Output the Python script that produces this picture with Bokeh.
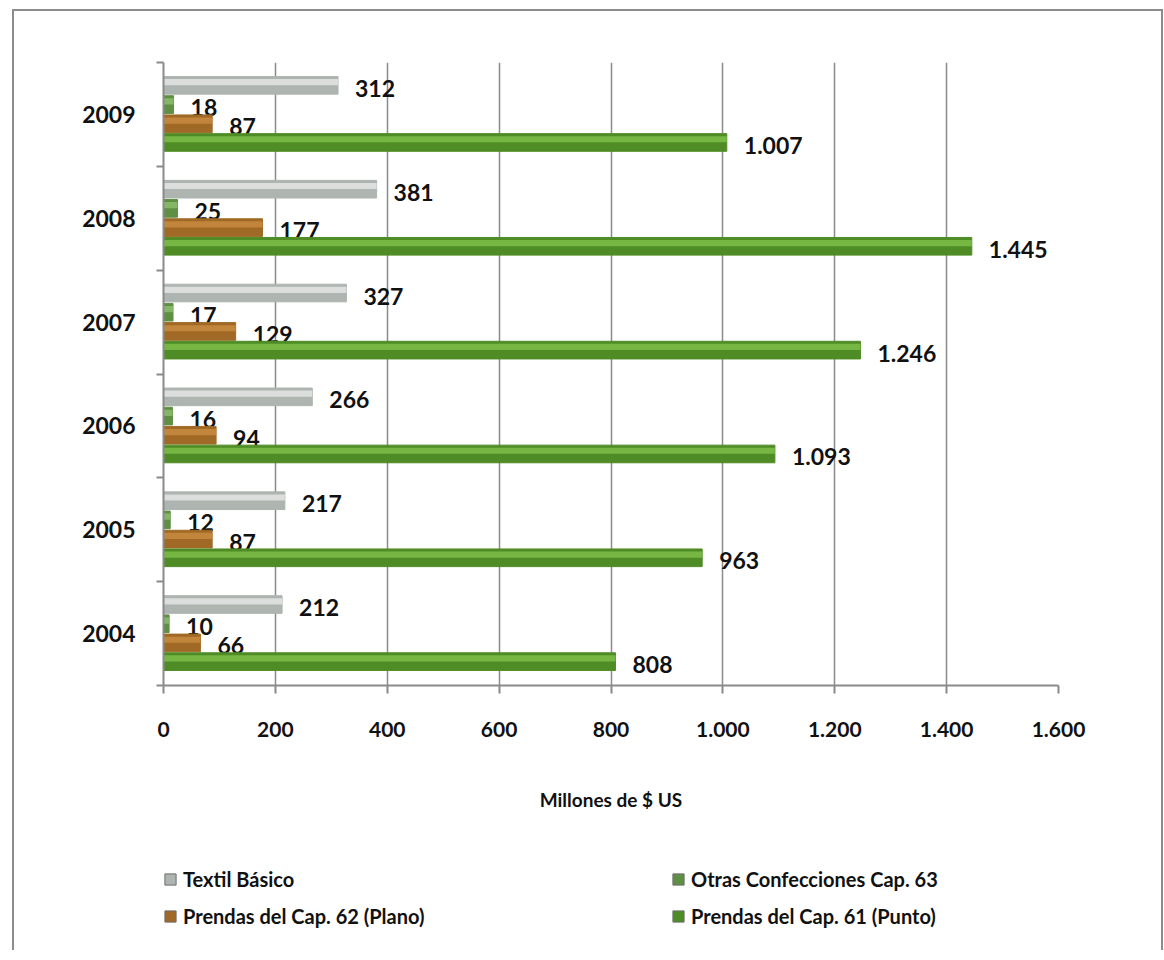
from bokeh.plotting import figure
from bokeh.layouts import column
from bokeh.models import ColumnDataSource, FixedTicker, Legend, LegendItem
from bokeh.core.properties import value
from bokeh.embed import file_html
from bokeh.resources import INLINE

# Export values, millions of US$
years = ["2004", "2005", "2006", "2007", "2008", "2009"]
textil = [212, 217, 266, 327, 381, 312]
otras = [10, 12, 16, 17, 25, 18]
cap62 = [66, 87, 94, 129, 177, 87]
cap61 = [808, 963, 1093, 1246, 1445, 1007]
x_ticks = [0, 200, 400, 600, 800, 1000, 1200, 1400, 1600]

series = [
    ("Textil Básico", textil, 0.28, "#aeb4b0", "#e6e9e7"),
    ("Otras Confecciones Cap. 63", otras, 0.095, "#5f8f43", "#8fbf6e"),
    ("Prendas del Cap. 62 (Plano)", cap62, -0.09, "#a06a26", "#c98c42"),
    ("Prendas del Cap. 61 (Punto)", cap61, -0.27, "#4f8c26", "#7fc04a"),
]
BAR_H = 0.17
FONT = value("Lato")
W = 1147


def fmt(v):
    return f"{v:,}".replace(",", ".")


p = figure(
    width=W, height=835,
    x_range=(0, 1600), y_range=(0, len(years)),
    output_backend="svg", toolbar_location=None,
    min_border_left=149, min_border_top=51,
    min_border_right=103, min_border_bottom=161,
    outline_line_color=None,
    background_fill_color="white", border_fill_color="white",
)

for name, vals, off, base, light in series:
    ys = [i + 0.5 + off for i in range(len(years))]
    src = ColumnDataSource(dict(y=ys, right=vals, label=[fmt(v) for v in vals]))
    p.hbar(y="y", right="right", left=0, height=BAR_H, source=src,
           fill_color=base, line_color=base, line_width=1)
    # lighter upper band gives the bars a rounded, tubular look
    hi = ColumnDataSource(dict(y=[y + BAR_H * 0.18 for y in ys], right=vals))
    p.hbar(y="y", right="right", left=0, height=BAR_H * 0.35, source=hi,
           fill_color=light, line_color=None, fill_alpha=0.8)
    p.text(x="right", y="y", text="label", source=src,
           x_offset=17, y_offset=3, text_baseline="middle", text_align="left",
           text_font=FONT, text_font_style="bold", text_font_size="23px",
           text_color="#111111")

# x axis
p.xaxis.ticker = FixedTicker(ticks=x_ticks)
p.xaxis.major_label_overrides = {t: fmt(t) for t in x_ticks}
p.xaxis.axis_label = "Millones de $ US"
p.xaxis.axis_label_text_font = "Lato"
p.xaxis.axis_label_text_font_style = "bold"
p.xaxis.axis_label_text_font_size = "19px"
p.xaxis.axis_label_text_color = "#111111"
p.xaxis.axis_label_standoff = 48
p.xaxis.major_label_text_font = "Lato"
p.xaxis.major_label_text_font_style = "bold"
p.xaxis.major_label_text_font_size = "21px"
p.xaxis.major_label_text_color = "#111111"
p.xaxis.major_label_standoff = 28
p.xaxis.major_tick_out = 8
p.xaxis.major_tick_in = 0
p.xaxis.minor_tick_line_color = None
p.xaxis.axis_line_color = "#8a8a8a"
p.xaxis.axis_line_width = 2
p.xaxis.major_tick_line_color = "#8a8a8a"
p.xaxis.major_tick_line_width = 2

# category axis: labels at group centres, tick marks at group boundaries
centers = [i + 0.5 for i in range(len(years))]
p.yaxis.ticker = FixedTicker(ticks=centers, minor_ticks=list(range(len(years) + 1)))
p.yaxis.major_label_overrides = {c: y for c, y in zip(centers, years)}
p.yaxis.major_tick_out = 0
p.yaxis.major_tick_in = 0
p.yaxis.minor_tick_out = 7
p.yaxis.minor_tick_in = 0
p.yaxis.minor_tick_line_color = "#8a8a8a"
p.yaxis.minor_tick_line_width = 2
p.yaxis.axis_line_color = "#8a8a8a"
p.yaxis.axis_line_width = 2
p.yaxis.major_label_standoff = 21
p.yaxis.major_label_text_font = "Lato"
p.yaxis.major_label_text_font_style = "bold"
p.yaxis.major_label_text_font_size = "23px"
p.yaxis.major_label_text_color = "#111111"

p.xgrid.grid_line_color = "#8a8a8a"
p.xgrid.grid_line_width = 1.5
p.ygrid.visible = False

# legend strip under the chart (its frame lines up with the chart's frame)
leg = figure(
    width=W, height=104, x_range=(0, 1), y_range=(0, 1),
    output_backend="svg", toolbar_location=None,
    x_axis_location=None, y_axis_location=None,
    min_border=0, outline_line_color=None,
    background_fill_color="white", border_fill_color="white",
)
leg.xgrid.visible = False
leg.ygrid.visible = False
swatches = {}
for name, vals, off, base, light in series:
    # placeholder glyph kept outside the visible range; only its swatch shows
    swatches[name] = leg.quad(left=[-10], right=[-9], bottom=[-10], top=[-9],
                              fill_color=base, line_color="#6e6e6e",
                              line_width=1)

# two columns, filled column by column
order = ["Textil Básico", "Prendas del Cap. 62 (Plano)",
         "Otras Confecciones Cap. 63", "Prendas del Cap. 61 (Punto)"]
items = [LegendItem(label=n, renderers=[swatches[n]]) for n in order]

legend = Legend(items=items, ncols=2, location=(0, 22),
                label_text_font="Lato", label_text_font_style="bold",
                label_text_font_size="20px", label_text_color="#111111",
                glyph_width=14, glyph_height=14, label_standoff=6,
                label_width=475, label_height=22, spacing=13,
                padding=4, margin=0, border_line_color=None,
                background_fill_alpha=0)
leg.add_layout(legend, "center")

page = column(p, leg, spacing=0, styles={
    "margin-left": "12px", "margin-top": "9px",
    "border-left": "2px solid #8c8c8c",
    "border-top": "2px solid #8c8c8c",
    "border-right": "2px solid #8c8c8c",
})

open("out.html", "w").write(file_html(page, INLINE))
